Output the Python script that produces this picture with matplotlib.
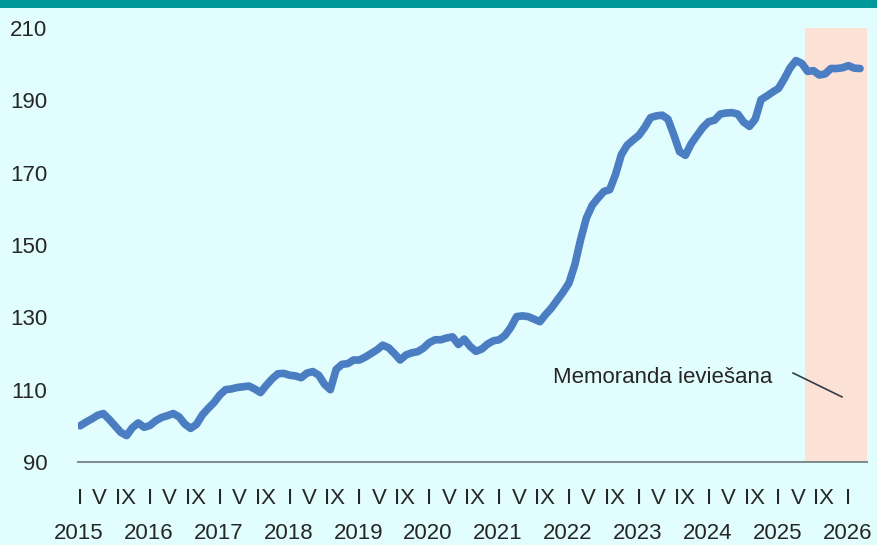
import matplotlib
matplotlib.use("Agg")
import matplotlib.pyplot as plt
from matplotlib.patches import Rectangle
import numpy as np

plt.rcParams['font.family'] = ['Liberation Sans', 'DejaVu Sans']

# Monthly index values, Jan 2015 .. Mar 2026
values = [
    # 2015
    100.0, 101.0, 101.9, 102.9, 103.4, 101.8, 100.0, 98.2, 97.3, 99.5, 100.8, 99.6,
    # 2016
    100.1, 101.4, 102.3, 102.8, 103.4, 102.5, 100.5, 99.3, 100.4, 103.0, 104.8, 106.4,
    # 2017
    108.5, 110.0, 110.2, 110.6, 110.8, 111.0, 110.2, 109.2, 111.2, 113.0, 114.4, 114.5,
    # 2018
    114.0, 113.8, 113.3, 114.6, 115.0, 114.0, 111.5, 110.0, 115.6, 117.0, 117.2, 118.2,
    # 2019
    118.2, 119.0, 120.0, 121.0, 122.3, 121.6, 120.0, 118.2, 119.6, 120.2, 120.5, 121.5,
    # 2020
    123.0, 123.8, 123.8, 124.3, 124.6, 122.5, 124.0, 122.0, 120.6, 121.2, 122.6, 123.5,
    # 2021
    123.8, 125.0, 127.2, 130.2, 130.4, 130.2, 129.5, 128.8, 130.8, 132.6, 134.8, 137.0,
    # 2022
    139.5, 144.5, 151.5, 157.5, 161.0, 163.0, 164.8, 165.3, 169.5, 175.0, 177.6, 179.0,
    # 2023
    180.3, 182.5, 185.2, 185.7, 185.9, 184.8, 180.5, 175.8, 174.8, 178.0, 180.3, 182.5,
    # 2024
    184.1, 184.5, 186.2, 186.5, 186.6, 186.2, 184.0, 182.8, 184.8, 190.2, 191.2, 192.3,
    # 2025
    193.3, 196.0, 199.0, 201.0, 200.2, 198.0, 198.2, 197.0, 197.3, 198.8, 198.8, 199.0,
    # 2026
    199.6, 198.9, 198.8,
]
years = [str(y) for y in range(2015, 2027)]
month_labels = ["I", "V", "IX"]
month_offsets = [0, 4, 8]
y_ticks = [90, 110, 130, 150, 170, 190, 210]
forecast_start = 124.5  # months from Jan 2015 (shaded: Memoranda ieviešana)
annotation = "Memoranda ieviešana"

W, H = 877, 545
FS = 16
TXT = '#262626'
fig = plt.figure(figsize=(W / 100, H / 100), dpi=100)
bg = '#E1FDFE'
fig.patch.set_facecolor(bg)
fig.patches.append(Rectangle((0, (H - 8) / H), 1, 8 / H, transform=fig.transFigure,
                             facecolor='#00999A', edgecolor='none', zorder=0))

ax = fig.add_axes([78 / W, (H - 462) / H, (867 - 78) / W, (462 - 28) / H])
ax.set_facecolor(bg)

x = np.arange(len(values))
xmin, xmax = -0.35, 135.2
ax.axvspan(forecast_start, xmax, color='#FCE1D7', zorder=0, lw=0)
ax.plot(x, values, color='#4A7DC1', lw=5.5, solid_capstyle='round',
        solid_joinstyle='round', zorder=3)

ax.set_xlim(xmin, xmax)
ax.set_ylim(90, 210)
ax.set_yticks(y_ticks)
ax.set_yticklabels([str(v) for v in y_ticks])
ax.tick_params(axis='y', length=0, pad=22, labelsize=FS, labelcolor=TXT)
ax.set_xticks([])
for s in ['top', 'right', 'left']:
    ax.spines[s].set_visible(False)
ax.spines['bottom'].set_color('#7F8A8A')
ax.spines['bottom'].set_linewidth(1.4)
ax.spines['bottom'].set_zorder(4)

trans = ax.get_xaxis_transform()
label_shift = {"I": 0.0, "V": -0.6, "IX": -0.2}
for k, yr in enumerate(years):
    base = 12 * k
    for lab, off in zip(month_labels, month_offsets):
        pos = base + off
        if pos > xmax:
            continue
        ax.text(pos + label_shift[lab], -0.097, lab, transform=trans, ha='center',
                va='baseline', fontsize=FS, color=TXT, clip_on=False)
    ax.text(base - 0.2, -0.177, yr, transform=trans, ha='center', va='baseline',
            fontsize=FS, color=TXT, clip_on=False)

ax.text(81.3, 111.8, annotation, ha='left', va='baseline', fontsize=FS,
        color=TXT, zorder=5)
ax.plot([122.5, 130.9], [114.6, 108.0], color='#333D45', lw=1.2, zorder=5)

fig.savefig('out.png', dpi=100, facecolor=fig.get_facecolor())
